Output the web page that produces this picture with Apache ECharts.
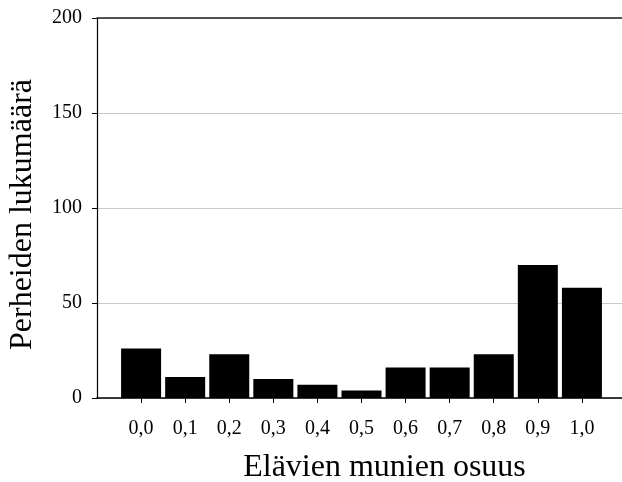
<!DOCTYPE html>
<html><head><meta charset="utf-8">
<script src="https://cdn.jsdelivr.net/npm/echarts@6/dist/echarts.min.js"></script>
<style>html,body{margin:0;padding:0;background:#fff}#c{width:622px;height:482px}</style>
</head><body><div id="c"></div>
<script>
const categories = [0.0, 0.1, 0.2, 0.3, 0.4, 0.5, 0.6, 0.7, 0.8, 0.9, 1.0];
const counts = [26, 11, 23, 10, 7, 4, 16, 16, 23, 70, 58];
const yTicks = [0, 50, 100, 150, 200];
const xTitle = 'Elävien munien osuus';
const yTitle = 'Perheiden lukumäärä';

const font = '"Liberation Serif","DejaVu Serif",serif';
const fmt = v => Number(v).toFixed(1).replace('.', ',');
const chart = echarts.init(document.getElementById('c'));
chart.setOption({
  animation: false,
  backgroundColor: '#fff',
  grid: { left: 97, right: -4, top: 18, bottom: 84, containLabel: false, outerBoundsMode: 'none' },
  xAxis: [{
    type: 'value', min: -0.1, max: 1.1, interval: 0.1,
    name: xTitle, nameLocation: 'middle', nameGap: 54,
    nameTextStyle: { fontFamily: font, fontSize: 32, color: '#000', padding: [0, 0, 0, 46] },
    axisLine: { show: true, onZero: false, lineStyle: { color: '#000', width: 1.5 } },
    axisTick: { show: true, length: 5, customValues: categories, lineStyle: { color: '#000' } },
    axisLabel: { customValues: categories, formatter: fmt, fontFamily: font, fontSize: 20, color: '#000', margin: 21 },
    splitLine: { show: false }
  }, {
    type: 'value', min: -0.1, max: 1.1, position: 'top',
    axisLine: { show: true, onZero: false, lineStyle: { color: '#222', width: 1.5 } },
    axisTick: { show: false }, axisLabel: { show: false }, splitLine: { show: false }
  }],
  yAxis: {
    type: 'value', min: 0, max: 200, interval: 50,
    name: yTitle, nameLocation: 'middle', nameGap: 58,
    nameTextStyle: { fontFamily: font, fontSize: 32, color: '#000', padding: [0, 13, 0, 0] },
    axisLine: { show: true, onZero: false, lineStyle: { color: '#000', width: 1.2 } },
    axisTick: { show: true, length: 5, customValues: yTicks, lineStyle: { color: '#000' } },
    axisLabel: { customValues: yTicks, fontFamily: font, fontSize: 20, color: '#000', margin: 15 },
    splitLine: { show: true, lineStyle: { color: '#c8c8c8', width: 1 } }
  },
  series: [{
    type: 'bar', barWidth: 40,
    itemStyle: { color: '#000' },
    data: categories.map((c, i) => [c, counts[i]])
  }]
});
</script></body></html>
